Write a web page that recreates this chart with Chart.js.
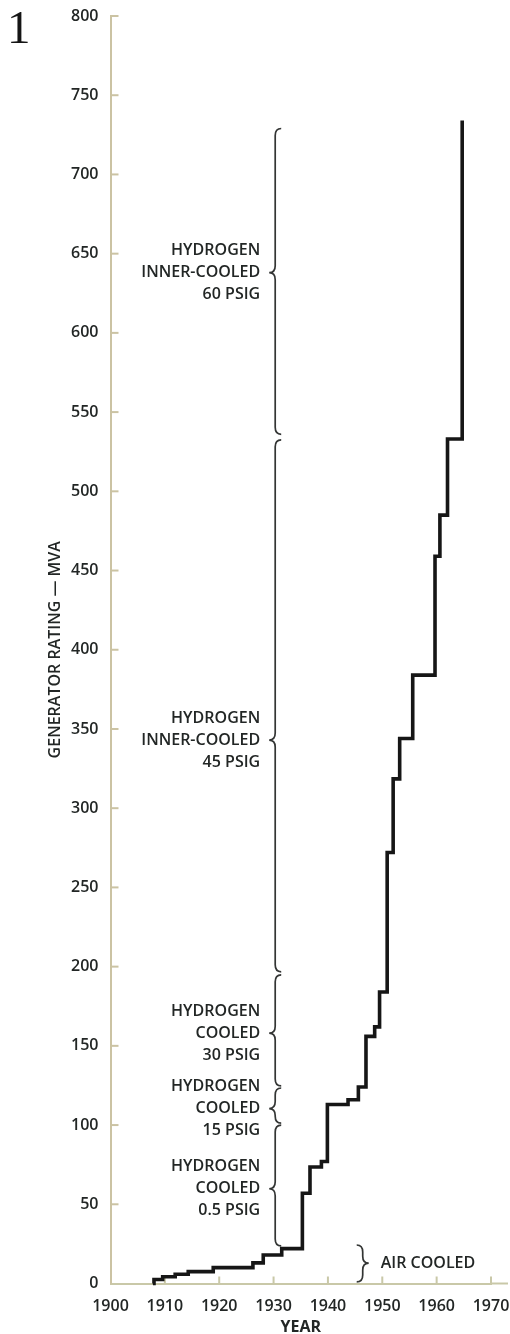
<!DOCTYPE html>
<html>
<head>
<meta charset="utf-8">
<script src="https://cdn.jsdelivr.net/npm/chart.js@4.4.1/dist/chart.umd.min.js"></script>
<style>
  html, body { margin: 0; padding: 0; background: #ffffff; }
  #wrap { position: relative; width: 510px; height: 1334px; }
  canvas { position: absolute; left: 0; top: 0; }
</style>
</head>
<body>
<div id="wrap"><canvas id="chart" width="510" height="1334"></canvas></div>
<script>
// Largest generator rating in service, year by year (step series)
const years   = [1907.8, 1908.0, 1909.6, 1911.9, 1914.3, 1918.9, 1926.2, 1928.1, 1931.5,
                 1935.3, 1936.7, 1938.8, 1939.9, 1943.7, 1945.6, 1947.0, 1948.6, 1949.5,
                 1950.9, 1952.0, 1953.2, 1955.6, 1959.7, 1960.6, 1962.0, 1964.7];
const ratings = [0, 2.5, 4.3, 5.8, 7.5, 10, 13, 18, 22,
                 57, 73.5, 77, 113, 116, 124, 156, 162, 184,
                 272, 318.5, 344, 384, 459, 485, 533, 734];

const xTicks = [1900, 1910, 1920, 1930, 1940, 1950, 1960, 1970];
const yTicks = [0, 50, 100, 150, 200, 250, 300, 350, 400, 450, 500, 550, 600, 650, 700, 750, 800];

// Cooling method bands (MVA ranges) shown with braces
const coolingLabels = [
  ["HYDROGEN", "INNER-COOLED", "60 PSIG"],
  ["HYDROGEN", "INNER-COOLED", "45 PSIG"],
  ["HYDROGEN", "COOLED", "30 PSIG"],
  ["HYDROGEN", "COOLED", "15 PSIG"],
  ["HYDROGEN", "COOLED", "0.5 PSIG"]
];
const coolingFrom = [729, 532.5, 194.8, 123.4, 100];
const coolingTo   = [536, 196.7, 124.7, 101.2, 23.7];
const coolingMid  = [638, 343, 158, 110.4, 59.8];
const coolingYear = 1930.3;

const airLabel = "AIR COOLED";
const airFrom = 24.3, airTo = 1, airMid = 12.8, airYear = 1946.4;

const TEXT = '#222625';
const FONT = '"Open Sans", "DejaVu Sans", sans-serif';

function brace(ctx, x, y1, y2, yt, dir, w) {
  const r = Math.min(7, Math.abs(y2 - y1) / 4);
  ctx.beginPath();
  ctx.moveTo(x - dir * w, y1);
  ctx.quadraticCurveTo(x, y1, x, y1 + r);
  ctx.lineTo(x, yt - r);
  ctx.quadraticCurveTo(x, yt, x + dir * w, yt);
  ctx.quadraticCurveTo(x, yt, x, yt + r);
  ctx.lineTo(x, y2 - r);
  ctx.quadraticCurveTo(x, y2, x - dir * w, y2);
  ctx.stroke();
}

// keep the plot area fixed by the layout padding alone
function noLabelPadding(s) {
  s.paddingTop = 0; s.paddingBottom = 0; s.paddingLeft = 0; s.paddingRight = 0;
}

const axisDecor = {
  id: 'axisDecor',
  beforeDatasetsDraw(chart) {
    const {ctx, chartArea, scales: {x, y}} = chart;
    ctx.save();
    // inward tick marks
    ctx.lineWidth = 2;
    ctx.strokeStyle = '#cbc3a3';
    yTicks.forEach(v => {
      if (v === 0) return;
      const py = y.getPixelForValue(v);
      ctx.beginPath(); ctx.moveTo(chartArea.left, py); ctx.lineTo(chartArea.left + 8, py); ctx.stroke();
    });
    ctx.strokeStyle = '#c9c8a8';
    xTicks.forEach(v => {
      if (v === 1900) return;
      const px = x.getPixelForValue(v);
      ctx.beginPath(); ctx.moveTo(px, chartArea.bottom); ctx.lineTo(px, chartArea.bottom - 7); ctx.stroke();
    });
    // baseline runs on past the last year label
    ctx.beginPath();
    ctx.moveTo(chartArea.right, chartArea.bottom);
    ctx.lineTo(508, chartArea.bottom);
    ctx.stroke();
    ctx.restore();
  },
  afterDatasetsDraw(chart) {
    const {ctx, scales: {x, y}} = chart;
    ctx.save();
    ctx.strokeStyle = '#333534';
    ctx.lineWidth = 1.7;
    ctx.fillStyle = TEXT;
    ctx.font = '600 16px ' + FONT;
    ctx.textBaseline = 'middle';
    const sx = x.getPixelForValue(coolingYear);
    coolingLabels.forEach((lines, i) => {
      const y1 = y.getPixelForValue(coolingFrom[i]);
      const y2 = y.getPixelForValue(coolingTo[i]);
      const yt = y.getPixelForValue(coolingMid[i]);
      brace(ctx, sx, y1, y2, yt, -1, 6);
      ctx.textAlign = 'right';
      lines.forEach((t, k) => ctx.fillText(t, sx - 15, yt + (k - 1) * 22));
    });
    const ax = x.getPixelForValue(airYear);
    const ay = y.getPixelForValue(airMid);
    brace(ctx, ax, y.getPixelForValue(airFrom), y.getPixelForValue(airTo), ay, 1, 6);
    ctx.textAlign = 'left';
    ctx.fillText(airLabel, ax + 18, ay);
    // figure number
    ctx.font = '47px "Liberation Serif", serif';
    ctx.fillStyle = '#151515';
    ctx.textBaseline = 'alphabetic';
    ctx.fillText('1', 7, 43);
    ctx.restore();
  }
};

new Chart(document.getElementById('chart'), {
  type: 'line',
  data: {
    datasets: [{
      data: years.map((yr, i) => ({x: yr, y: ratings[i]})),
      stepped: 'before',
      borderColor: '#161616',
      borderWidth: 3.6,
      borderJoinStyle: 'miter',
      pointRadius: 0,
      fill: false,
      clip: false
    }]
  },
  options: {
    responsive: false,
    devicePixelRatio: 1,
    animation: false,
    layout: { padding: { top: 16, right: 19, left: 0, bottom: 0 } },
    plugins: { legend: { display: false }, tooltip: { enabled: false } },
    scales: {
      x: {
        type: 'linear', min: 1900, max: 1970,
        afterBuildTicks: s => { s.ticks = xTicks.map(v => ({value: v})); },
        afterFit: s => { s.height = 50.5; noLabelPadding(s); },
        grid: { display: false, drawTicks: false },
        border: { display: true, color: '#c9c8a8', width: 2 },
        ticks: { color: TEXT, padding: 13, font: { family: FONT, size: 16, weight: '600' }, callback: v => String(v) },
        title: { display: true, text: 'YEAR', color: TEXT, padding: { top: 0, bottom: 0 },
                 font: { family: FONT, size: 16, weight: '700', lineHeight: 0.8 } }
      },
      y: {
        type: 'linear', min: 0, max: 800,
        afterBuildTicks: s => { s.ticks = yTicks.map(v => ({value: v})); },
        afterFit: s => { s.width = 110.5; noLabelPadding(s); },
        grid: { display: false, drawTicks: false },
        border: { display: true, color: '#cbc3a3', width: 2 },
        ticks: { color: TEXT, padding: 12, font: { family: FONT, size: 16, weight: '600' }, callback: v => String(v) },
        title: { display: true, text: 'GENERATOR RATING — MVA', color: TEXT, padding: { top: 47, bottom: 0 },
                 font: { family: FONT, size: 16, weight: '600', lineHeight: 1 } }
      }
    }
  },
  plugins: [axisDecor]
});
</script>
</body>
</html>
